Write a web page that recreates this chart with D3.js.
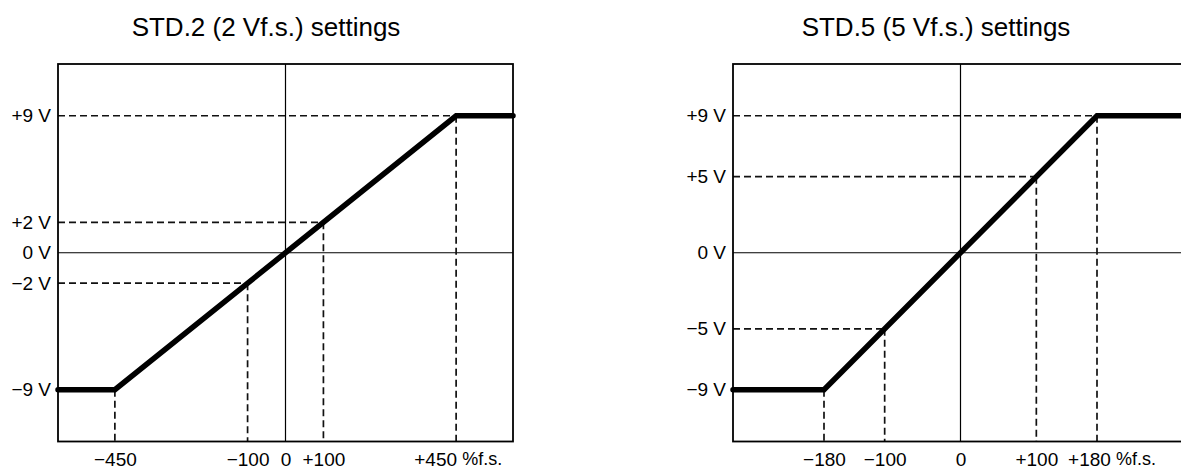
<!DOCTYPE html>
<html>
<head>
<meta charset="utf-8">
<script src="https://cdn.jsdelivr.net/npm/d3@7"></script>
<style>
  html, body { margin: 0; padding: 0; background: #fff; }
  svg { display: block; }
  text { font-family: "Liberation Sans", Arial, sans-serif; fill: #000; }
</style>
</head>
<body>
<svg id="chart" width="1181" height="470"></svg>
<script>
// ---------- data ----------
const titles = ["STD.2 (2 Vf.s.) settings", "STD.5 (5 Vf.s.) settings"];

// chart 1 (STD.2)
const c1Domain = [-600, 600];
const c1CurveX = [-600, -450, 450, 600];
const c1CurveY = [-9, -9, 9, 9];
const c1RefX = [-450, -100, 100, 450];
const c1RefY = [-9, -2, 2, 9];
const c1TickX = [-450, -100, 0, 100, 450];
const c1TickXLabels = ["\u2212450", "\u2212100", "0", "+100", "+450"];
const c1TickY = [9, 2, 0, -2, -9];
const c1TickYLabels = ["+9 V", "+2 V", "0 V", "\u22122 V", "\u22129 V"];

// chart 2 (STD.5)
const c2Domain = [-300, 300];
const c2CurveX = [-300, -180, 180, 300];
const c2CurveY = [-9, -9, 9, 9];
const c2RefX = [-180, -100, 100, 180];
const c2RefY = [-9, -5, 5, 9];
const c2TickX = [-180, -100, 0, 100, 180];
const c2TickXLabels = ["\u2212180", "\u2212100", "0", "+100", "+180"];
const c2TickY = [9, 5, 0, -5, -9];
const c2TickYLabels = ["+9 V", "+5 V", "0 V", "\u22125 V", "\u22129 V"];

const yDomain = [-12.4, 12.4];
const unitLabel = "%f.s.";

// ---------- drawing ----------
const svg = d3.select("#chart");

function drawChart(cfg) {
  const g = svg.append("g");
  const x = d3.scaleLinear().domain(cfg.domain).range([cfg.left, cfg.left + cfg.width]);
  const y = d3.scaleLinear().domain(yDomain).range([cfg.bottom, cfg.top]);

  // title
  g.append("text")
    .attr("x", cfg.left + cfg.titleOffset)
    .attr("y", 35.5)
    .attr("text-anchor", "middle")
    .style("font-size", "26px")
    .text(cfg.title);

  // axis zero lines
  g.append("line")
    .attr("x1", x(0)).attr("x2", x(0))
    .attr("y1", y(yDomain[1])).attr("y2", y(yDomain[0]))
    .attr("stroke", "#000").attr("stroke-width", 1.2);
  g.append("line")
    .attr("x1", x(cfg.domain[0])).attr("x2", x(cfg.domain[1]))
    .attr("y1", y(0)).attr("y2", y(0))
    .attr("stroke", "#000").attr("stroke-width", 1.2);

  // reference dashed lines
  const refs = cfg.refX.map((v, i) => ({ x: v, y: cfg.refY[i] }));
  g.selectAll(".hdash").data(refs).join("line")
    .attr("x1", x(cfg.domain[0])).attr("x2", d => x(d.x))
    .attr("y1", d => y(d.y)).attr("y2", d => y(d.y))
    .attr("stroke", "#111").attr("stroke-width", 1.7)
    .attr("stroke-dasharray", "7,4");
  g.selectAll(".vdash").data(refs).join("line")
    .attr("x1", d => x(d.x)).attr("x2", d => x(d.x))
    .attr("y1", d => y(d.y)).attr("y2", y(yDomain[0]))
    .attr("stroke", "#111").attr("stroke-width", 1.7)
    .attr("stroke-dasharray", "7,4");

  // frame
  g.append("rect")
    .attr("x", x(cfg.domain[0])).attr("y", y(yDomain[1]))
    .attr("width", x(cfg.domain[1]) - x(cfg.domain[0]))
    .attr("height", y(yDomain[0]) - y(yDomain[1]))
    .attr("fill", "none").attr("stroke", "#000").attr("stroke-width", 1.8);

  // transfer curve
  const pts = cfg.curveX.map((v, i) => [v, cfg.curveY[i]]);
  g.append("path")
    .datum(pts)
    .attr("d", d3.line().x(d => x(d[0])).y(d => y(d[1])))
    .attr("fill", "none").attr("stroke", "#000").attr("stroke-width", 5.5)
    .attr("stroke-linecap", "round").attr("stroke-linejoin", "miter");

  // y axis labels
  const yAxis = d3.axisLeft(y)
    .tickValues(cfg.tickY)
    .tickFormat((d, i) => cfg.tickYLabels[i])
    .tickSize(0).tickPadding(7);
  const ya = g.append("g").attr("transform", `translate(${x(cfg.domain[0])},0)`).call(yAxis);
  ya.select(".domain").remove();
  ya.selectAll("text").style("font-size", "19px").style("font-family", "Liberation Sans, Arial, sans-serif").attr("fill", "#000");

  // x axis labels
  const xAxis = d3.axisBottom(x)
    .tickValues(cfg.tickX)
    .tickFormat((d, i) => cfg.tickXLabels[i])
    .tickSize(0).tickPadding(11);
  const xa = g.append("g").attr("transform", `translate(0,${y(yDomain[0])})`).call(xAxis);
  xa.select(".domain").remove();
  xa.selectAll("text").style("font-size", "19px").style("font-family", "Liberation Sans, Arial, sans-serif").attr("fill", "#000");
  const lastTick = xa.selectAll(".tick").filter((d, i) => i === cfg.tickX.length - 1);
  lastTick.select("text").attr("dx", cfg.lastDx);
  const lastX = x(cfg.tickX[cfg.tickX.length - 1]);
  g.append("text")
    .attr("x", lastX + cfg.lastDx + 27)
    .attr("y", y(yDomain[0]) + 11)
    .attr("dy", "0.71em")
    .style("font-size", "18px")
    .text(unitLabel);
}

drawChart({
  title: titles[0], domain: c1Domain, left: 58, width: 455, top: 64, bottom: 441.5, titleOffset: 208,
  curveX: c1CurveX, curveY: c1CurveY, refX: c1RefX, refY: c1RefY,
  tickX: c1TickX, tickXLabels: c1TickXLabels, tickY: c1TickY, tickYLabels: c1TickYLabels,
  lastDx: -21
});
drawChart({
  title: titles[1], domain: c2Domain, left: 733, width: 455, top: 64, bottom: 441.5, titleOffset: 203,
  curveX: c2CurveX, curveY: c2CurveY, refX: c2RefX, refY: c2RefY,
  tickX: c2TickX, tickXLabels: c2TickXLabels, tickY: c2TickY, tickYLabels: c2TickYLabels,
  lastDx: -8
});
</script>
</body>
</html>
